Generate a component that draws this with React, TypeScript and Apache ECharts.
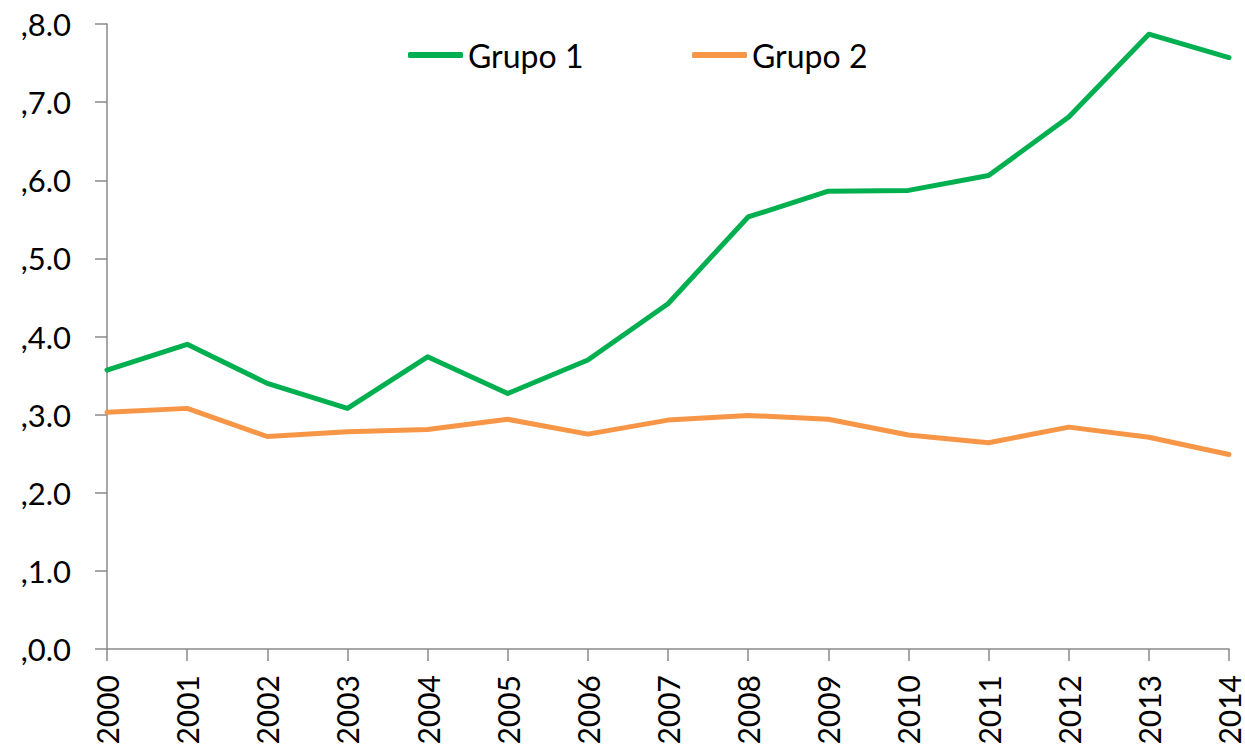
import React, { useEffect, useRef } from "react";
import * as echarts from "echarts";

const years = ["2000","2001","2002","2003","2004","2005","2006","2007","2008","2009","2010","2011","2012","2013","2014"];
const grupo1 = [3.57, 3.90, 3.40, 3.08, 3.74, 3.27, 3.70, 4.42, 5.53, 5.86, 5.87, 6.06, 6.81, 7.87, 7.57];
const grupo2 = [3.03, 3.08, 2.72, 2.78, 2.81, 2.94, 2.75, 2.93, 2.99, 2.94, 2.74, 2.64, 2.84, 2.71, 2.49];
const seriesNames = ["Grupo 1", "Grupo 2"];
const colors = ["#00B050", "#F79646"];

const FONT = "Lato, 'Open Sans', sans-serif";

export default function App() {
  const ref = useRef<HTMLDivElement>(null);
  useEffect(() => {
    if (!ref.current) return;
    const chart = echarts.init(ref.current, undefined, { renderer: "svg" });
    const legendBase = {
      top: 34,
      itemWidth: 55,
      itemHeight: 6,
      icon: "roundRect",
      textStyle: { fontFamily: FONT, fontSize: 32, color: "#000" },
    };
    chart.setOption({
      animation: false,
      backgroundColor: "#ffffff",
      legend: [
        { ...legendBase, left: 403, data: [seriesNames[0]] },
        { ...legendBase, left: 687, data: [seriesNames[1]] },
      ],
      grid: { left: 107, right: 16, top: 24, bottom: 99, containLabel: false },
      xAxis: {
        type: "category",
        data: years,
        boundaryGap: false,
        axisLine: { lineStyle: { color: "#898989", width: 1.5 } },
        axisTick: { show: true, length: 12, alignWithLabel: true, lineStyle: { color: "#898989", width: 1.5 } },
        axisLabel: { rotate: 90, margin: 26, fontFamily: FONT, fontSize: 30, lineHeight: 28, color: "#000", interval: 0 },
        splitLine: { show: false },
      },
      yAxis: {
        type: "value",
        min: 0,
        max: 8,
        interval: 1,
        axisLine: { show: true, lineStyle: { color: "#898989", width: 1.5 } },
        axisTick: { show: true, length: 12, lineStyle: { color: "#898989", width: 1.5 } },
        axisLabel: {
          margin: 36,
          fontFamily: FONT,
          fontSize: 31,
          color: "#000",
          formatter: (v: number) => "," + v.toFixed(1),
        },
        splitLine: { show: false },
      },
      series: [
        {
          name: seriesNames[0],
          type: "line",
          data: grupo1,
          symbol: "none",
          lineStyle: { color: colors[0], width: 5, cap: "round", join: "round" },
          itemStyle: { color: colors[0] },
        },
        {
          name: seriesNames[1],
          type: "line",
          data: grupo2,
          symbol: "none",
          lineStyle: { color: colors[1], width: 5, cap: "round", join: "round" },
          itemStyle: { color: colors[1] },
        },
      ],
    });
    return () => chart.dispose();
  }, []);
  return <div ref={ref} style={{ width: 1245, height: 748, position: "absolute", left: 0, top: 0 }} />;
}
